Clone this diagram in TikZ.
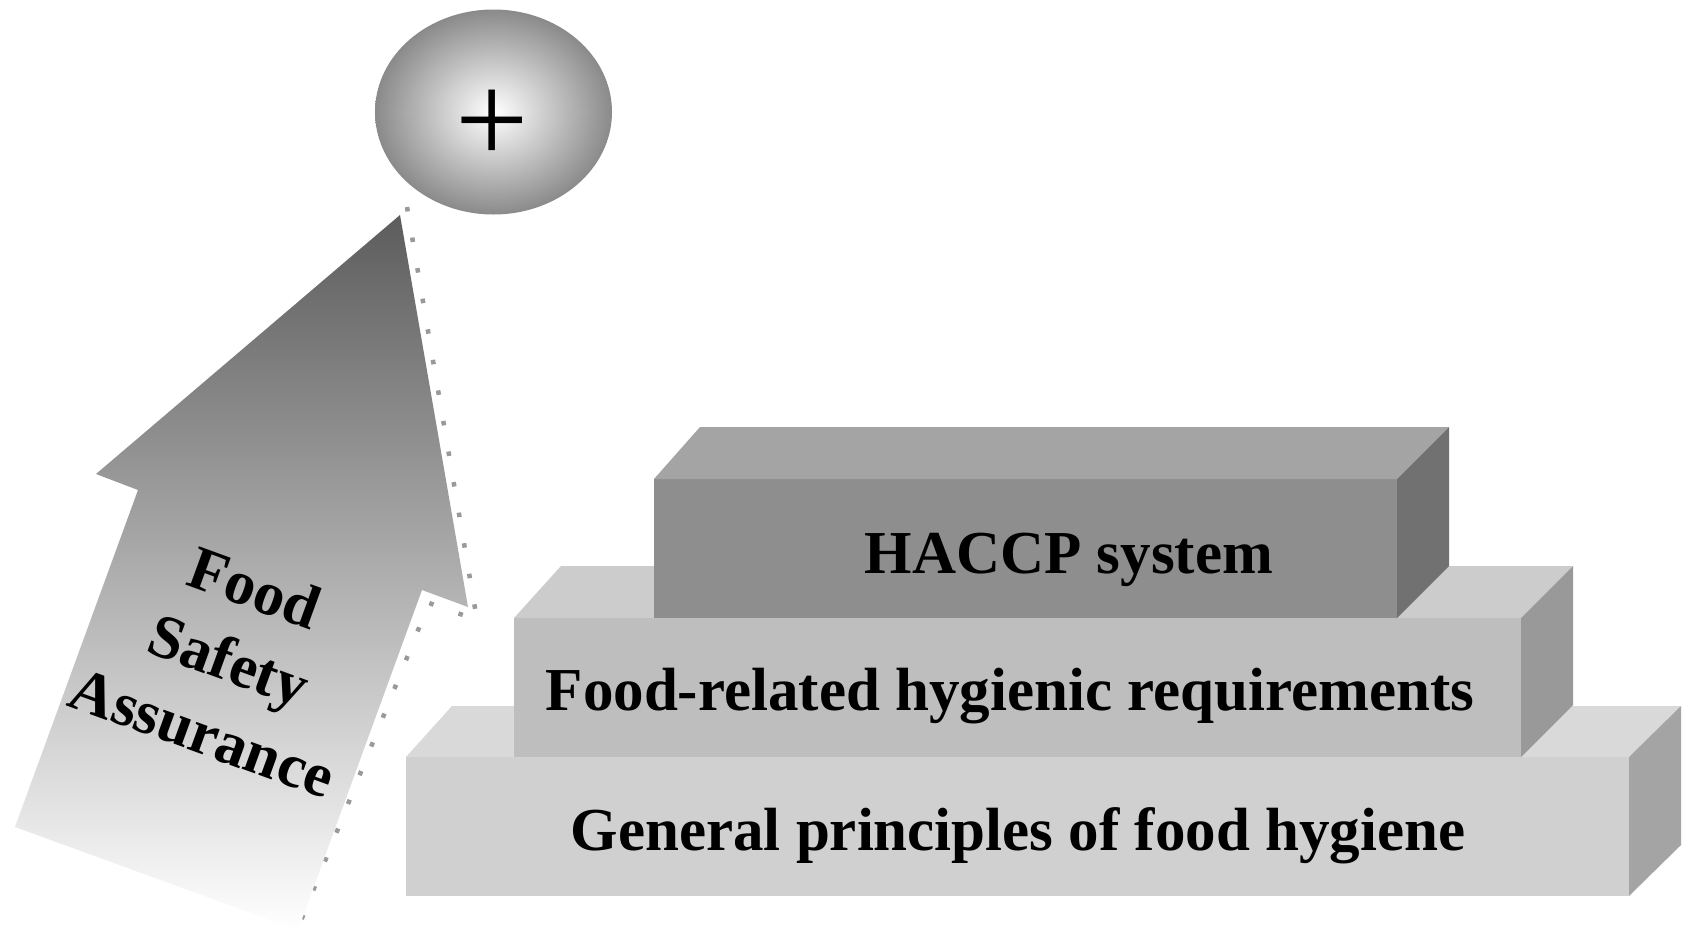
\documentclass[tikz,border=0pt]{standalone}
\usepackage{fontspec}
\setmainfont{Liberation Serif}
\definecolor{botfront}{RGB}{208,208,208}
\definecolor{bottop}{RGB}{217,217,217}
\definecolor{botright}{RGB}{164,164,164}
\definecolor{midfront}{RGB}{190,190,190}
\definecolor{midtop}{RGB}{204,204,204}
\definecolor{midright}{RGB}{153,153,153}
\definecolor{topfront}{RGB}{142,142,142}
\definecolor{toptop}{RGB}{164,164,164}
\definecolor{topright}{RGB}{113,113,113}
\definecolor{arrowdark}{RGB}{92,92,92}
\definecolor{circgray}{RGB}{138,138,138}
\definecolor{dotgray}{RGB}{153,153,153}
\begin{document}
\begin{tikzpicture}[x=1pt,y=-1pt,
  lbl/.style={font=\bfseries\fontsize{61}{77}\selectfont, anchor=base, inner sep=0pt},
  dotline/.style={draw=dotgray, line width=4.5pt, dash pattern=on 4.5pt off 26.5pt}]
\useasboundingbox (0,0) rectangle (1682,943);
\fill[white] (0,0) rectangle (1682,943);

% bottom box
\fill[botfront] (406,757) rectangle (1629,896);
\fill[bottop] (406,757) -- (452,706) -- (1681,706) -- (1629,757) -- cycle;
\fill[botright] (1629,757) -- (1681,706) -- (1681,845) -- (1629,896) -- cycle;
% middle box
\fill[midfront] (514,618) rectangle (1521,757);
\fill[midtop] (514,618) -- (561,566) -- (1573,566) -- (1521,618) -- cycle;
\fill[midright] (1521,618) -- (1573,566) -- (1573,705) -- (1521,757) -- cycle;
% top box
\fill[topfront] (654,479) rectangle (1397,618);
\fill[toptop] (654,479) -- (700,427) -- (1449,427) -- (1397,479) -- cycle;
\fill[topright] (1397,479) -- (1449,427) -- (1449,566) -- (1397,618) -- cycle;

\node[lbl] (haccp) at (1069,573) {HACCP system};
\node[lbl] (req) at (1010,710) {Food-related hygienic requirements};
\node[lbl] (gen) at (1018,850) {General principles of food hygiene};

% arrow
\draw[dotline] (407,207) -- (477,620) -- (429,603) -- (292,943);
\shade[top color=arrowdark, bottom color=white]
  (400,215) -- (468,607) -- (422,590) -- (298,930) -- (15,827) -- (138,490) -- (96,474) -- cycle;
\node[font=\bfseries\fontsize{62}{77}\selectfont, align=center, rotate=-20, inner sep=0pt] (fsa) at (229,660) {Food\\Safety\\Assurance};

% circle with plus
\shade[inner color=white, outer color=circgray] (493.5,112) ellipse [x radius=118.5, y radius=102.5];
\node[font=\fontsize{130}{130}\selectfont, inner sep=0pt] (plus) at (492,126.5) {+};
\end{tikzpicture}
\end{document}
